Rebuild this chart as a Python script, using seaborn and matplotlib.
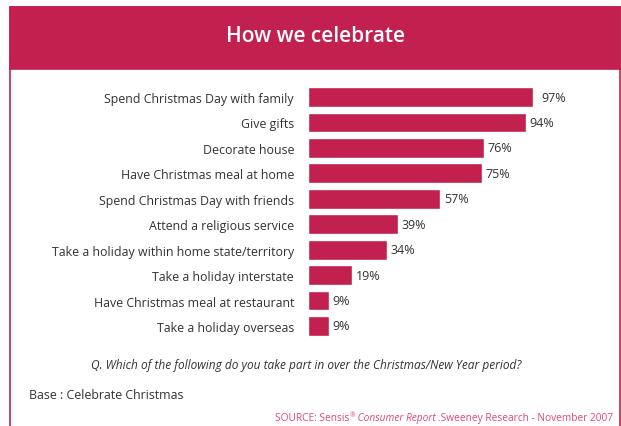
import matplotlib
matplotlib.use("Agg")
import matplotlib.pyplot as plt
from matplotlib.patches import Rectangle
import seaborn as sns
import pandas as pd

activities = [
    "Spend Christmas Day with family",
    "Give gifts",
    "Decorate house",
    "Have Christmas meal at home",
    "Spend Christmas Day with friends",
    "Attend a religious service",
    "Take a holiday within home state/territory",
    "Take a holiday interstate",
    "Have Christmas meal at restaurant",
    "Take a holiday overseas",
]
shares = [97, 94, 76, 75, 57, 39, 34, 19, 9, 9]

title = "How we celebrate"
question = "Q. Which of the following do you take part in over the Christmas/New Year period?"
base_note = "Base : Celebrate Christmas"

crimson = "#C2204F"
text_grey = "#333333"
pink = "#E0457A"

sns.set_theme(style="white")
plt.rcParams["font.family"] = ["Open Sans", "DejaVu Sans"]

W, H = 621, 427
fig = plt.figure(figsize=(W / 100, H / 100), dpi=100)
fig.patch.set_facecolor("white")

def fx(px):
    return px / W

def fy(py):
    return 1 - py / H

# frame and header band
fig.patches.append(Rectangle((fx(10), fy(430)), fx(610), fy(8) - fy(430),
                             transform=fig.transFigure, fill=False,
                             edgecolor=crimson, linewidth=1.2))
fig.patches.append(Rectangle((fx(10), fy(70)), fx(610), fy(8) - fy(70),
                             transform=fig.transFigure, facecolor=crimson,
                             edgecolor=crimson, linewidth=1.2))
fig.text(fx(316), fy(36), title, color="white", fontsize=15,
         ha="center", va="center", weight="semibold")

# bar chart axes
left, right = 308, 540
top, bottom = 85.3, 339.7
ax = fig.add_axes([fx(left), fy(bottom), fx(right - left), fy(top) - fy(bottom)])
df = pd.DataFrame({"activity": activities, "share": shares})
sns.barplot(data=df, x="share", y="activity", color=crimson, saturation=1,
            width=0.78, ax=ax, orient="h")
ax.set_xlim(0, 100)
ax.set_ylim(len(activities) - 0.5, -0.5)
ax.set_xlabel("")
ax.set_ylabel("")
ax.set_xticks([])
for s in ax.spines.values():
    s.set_visible(False)
ax.tick_params(axis="y", length=0, pad=10, labelsize=8.9, labelcolor=text_grey)
ax.set_facecolor("none")

for i, v in enumerate(shares):
    ax.text(v + 1.5 if v < 95 else v + 3.5, i, f"{v}%", va="center", ha="left",
            fontsize=9, color=text_grey)

fig.text(fx(306), fy(366), question, style="italic", fontsize=8.6,
         color=text_grey, ha="center", va="center")
fig.text(fx(29), fy(396), base_note, fontsize=8.9, color=text_grey,
         ha="left", va="center")

# source line built right-to-left from pieces with differing styles
fig.canvas.draw()
renderer = fig.canvas.get_renderer()
pieces = [
    ("SOURCE: Sensis", "normal", 7.3, 0),
    ("®", "normal", 4.8, 3),
    (" Consumer Report ", "italic", 7.3, 0),
    (".Sweeney Research - November 2007", "normal", 7.3, 0),
]
x = fx(613)
y = fy(419)
for txt, sty, size, rise in reversed(pieces):
    t = fig.text(x, y + rise / H, txt, style=sty, fontsize=size, color=pink,
                 ha="right", va="center")
    bb = t.get_window_extent(renderer)
    x -= bb.width / W

fig.savefig("out.png", dpi=100, facecolor="white")
